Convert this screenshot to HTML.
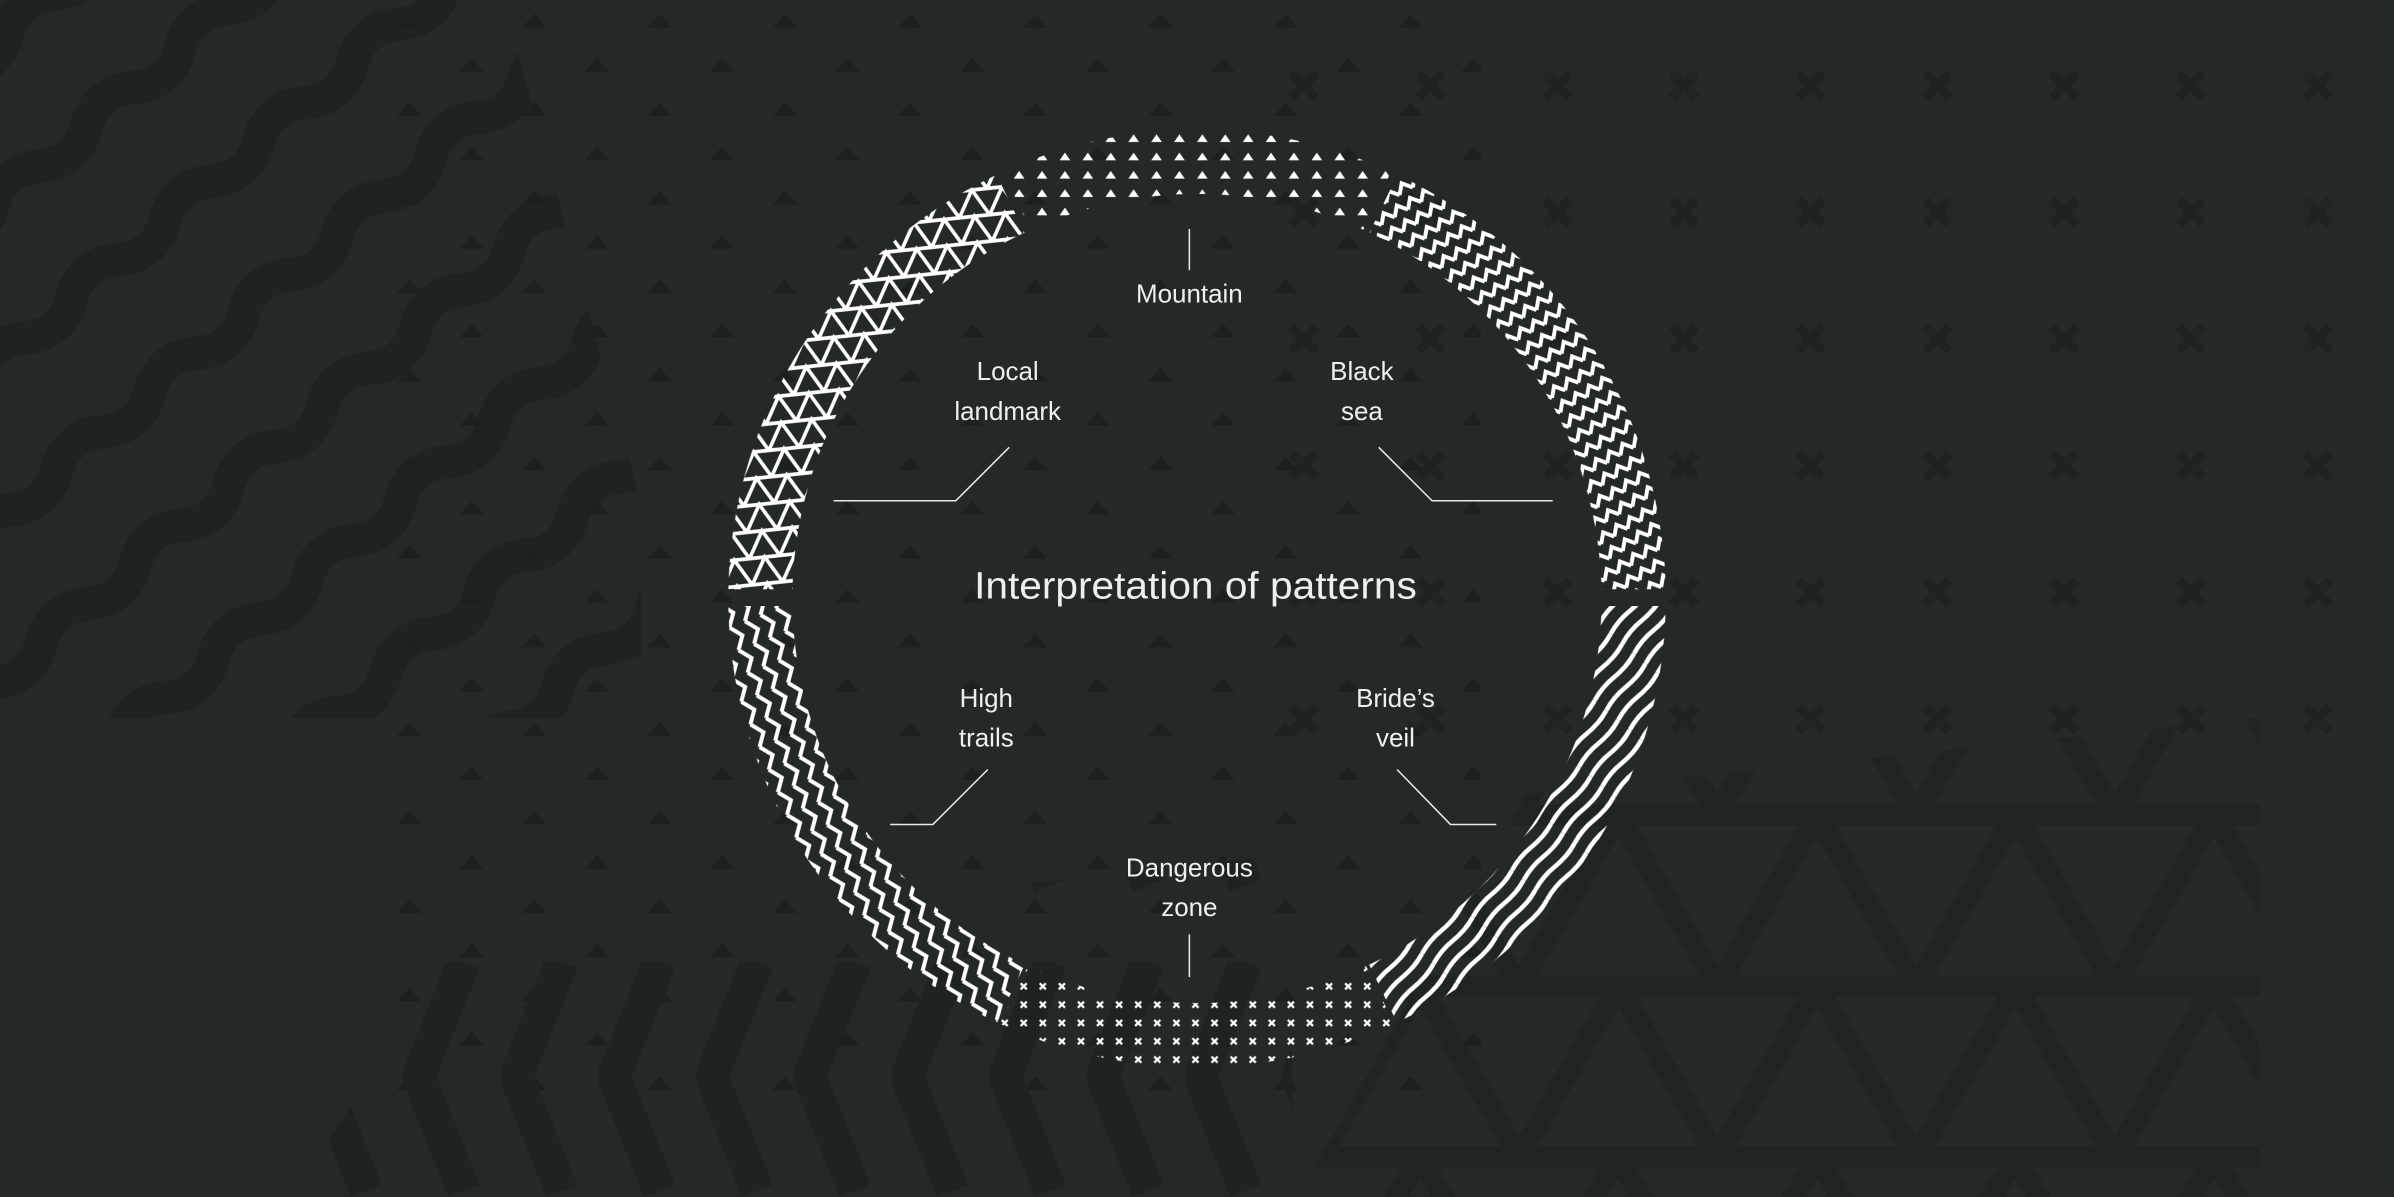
<!DOCTYPE html>
<html><head><meta charset="utf-8"><style>
html,body{margin:0;padding:0;background:#242927;}
svg{display:block;}
text{font-family:"Liberation Sans",sans-serif;fill:#eef0ee;}
</style></head><body>
<svg width="2394" height="1197" viewBox="0 0 1568 784" xmlns="http://www.w3.org/2000/svg">
<defs>
  <pattern id="bgWave" width="80" height="80" patternUnits="userSpaceOnUse" patternTransform="rotate(-40)">
    <path d="M-10 20 Q10 6 30 20 T70 20 T110 20" stroke="#1e2221" stroke-width="22" fill="none"/>
  </pattern>
  <pattern id="bgTri" width="82" height="58" patternUnits="userSpaceOnUse">
    <polygon points="14,18 22,9 30,18" fill="#1c201f"/>
    <polygon points="55,47 63,38 71,47" fill="#1c201f"/>
  </pattern>
  <pattern id="bgX" width="83" height="83" patternUnits="userSpaceOnUse" x="8" y="40">
    <path d="M8 8 L24 24 M24 8 L8 24" stroke="#1e2221" stroke-width="6"/>
  </pattern>
  <pattern id="bgLat" width="130" height="112" patternUnits="userSpaceOnUse" x="20" y="534">
    <path d="M0 0 H130 M0 112 H130 M0 0 L65 112 L130 0 M-65 112 L0 0 M65 -112 L130 0" stroke="#1f2322" stroke-width="14" fill="none"/>
  </pattern>
  <pattern id="bgChev" width="64" height="200" patternUnits="userSpaceOnUse" x="200" y="630">
    <path d="M40 0 L10 75 L40 150" stroke="#1e2221" stroke-width="22" fill="none"/>
  </pattern>

  <pattern id="pLat" width="20" height="17.3" patternUnits="userSpaceOnUse" patternTransform="rotate(-6)">
    <path d="M-2 0 H22 M-2 17.3 H22 M0 0 L10 17.3 L20 0 M-10 17.3 L0 0 M10 -17.3 L20 0 M20 17.3 L30 0 M0 17.3 L-10 0" stroke="#fff" stroke-width="2.4" fill="none"/>
  </pattern>
  <pattern id="pTriDot" width="15" height="12" patternUnits="userSpaceOnUse">
    <polygon points="4,9 7.5,4 11,9" fill="#fff"/>
  </pattern>
  <pattern id="pZigR" width="10" height="11" patternUnits="userSpaceOnUse" patternTransform="rotate(-30)">
    <path d="M0 8 L5 2 L10 8" stroke="#fff" stroke-width="2.6" fill="none"/>
  </pattern>
  <pattern id="pZigL" width="11" height="16" patternUnits="userSpaceOnUse" patternTransform="rotate(-22)">
    <path d="M3 0 L9 8 L3 16" stroke="#fff" stroke-width="2.6" fill="none"/>
  </pattern>
  <pattern id="pVeil" width="40" height="10" patternUnits="userSpaceOnUse" patternTransform="rotate(-50)">
    <path d="M0 5 Q10 3 20 5 T40 5" stroke="#fff" stroke-width="3" fill="none"/>
  </pattern>
  <pattern id="pX" width="12.5" height="12" patternUnits="userSpaceOnUse" x="2" y="4">
    <path d="M4 4 L8 8 M8 4 L4 8" stroke="#fff" stroke-width="1.5"/>
  </pattern>

  <mask id="ring">
    <rect width="1568" height="784" fill="#000"/>
    <circle cx="784" cy="392" r="307" fill="#fff"/>
    <circle cx="784" cy="392" r="265" fill="#000"/>
  </mask>
  <clipPath id="cTop"><polygon points="784,380 557,-98 1011,-98"/></clipPath>
  <clipPath id="cLU"><polygon points="784,386 550,-98 0,-98 0,386"/></clipPath>
  <clipPath id="cRU"><polygon points="784,386 1018,-98 1568,-98 1568,386"/></clipPath>
  <clipPath id="cLL"><polygon points="784,397 0,397 0,900 552,880"/></clipPath>
  <clipPath id="cBot"><polygon points="784,405 556,874 1012,874"/></clipPath>
  <clipPath id="cRL"><polygon points="784,397 1568,397 1568,900 1016,880"/></clipPath>
  <clipPath id="cLeft"><polygon points="0,0 330,0 420,330 420,470 0,470"/></clipPath>
  <clipPath id="cTopTri"><rect x="240" y="0" width="730" height="720"/></clipPath>
  <clipPath id="cRightX"><rect x="830" y="0" width="738" height="520"/></clipPath>
  <clipPath id="cLatt"><polygon points="850,784 1000,520 1480,470 1480,784"/></clipPath>
  <clipPath id="cChev"><polygon points="190,784 300,620 840,560 850,784"/></clipPath>
</defs>

<rect width="1568" height="784" fill="#242927"/>
<rect width="1568" height="784" fill="url(#bgWave)" clip-path="url(#cLeft)"/>
<rect width="1568" height="784" fill="url(#bgTri)" clip-path="url(#cTopTri)"/>
<rect width="1568" height="784" fill="url(#bgX)" clip-path="url(#cRightX)"/>
<rect width="1568" height="784" fill="url(#bgLat)" clip-path="url(#cLatt)"/>
<rect width="1568" height="784" fill="url(#bgChev)" clip-path="url(#cChev)"/>

<g mask="url(#ring)">
  <rect width="1568" height="784" fill="url(#pTriDot)" clip-path="url(#cTop)"/>
  <rect width="1568" height="784" fill="url(#pLat)" clip-path="url(#cLU)"/>
  <rect width="1568" height="784" fill="url(#pZigR)" clip-path="url(#cRU)"/>
  <rect width="1568" height="784" fill="url(#pZigL)" clip-path="url(#cLL)"/>
  <rect width="1568" height="784" fill="url(#pX)" clip-path="url(#cBot)"/>
  <rect width="1568" height="784" fill="url(#pVeil)" clip-path="url(#cRL)"/>
</g>

<g stroke="#e8eae8" stroke-width="1" fill="none">
  <path d="M779 150 V177"/>
  <path d="M546 328 H626 L661 293"/>
  <path d="M1017 328 H938 L903 293"/>
  <path d="M583 540 H611 L647 504"/>
  <path d="M980 540 H950 L915 504"/>
  <path d="M779 612 V640"/>
</g>

<g font-size="17" text-anchor="middle">
  <text x="779" y="198">Mountain</text>
  <text x="660" y="249">Local</text>
  <text x="660" y="275">landmark</text>
  <text x="892" y="249">Black</text>
  <text x="892" y="275">sea</text>
  <text x="646" y="463">High</text>
  <text x="646" y="489">trails</text>
  <text x="914" y="463">Bride’s</text>
  <text x="914" y="489">veil</text>
  <text x="779" y="574">Dangerous</text>
  <text x="779" y="600">zone</text>
  <text x="783" y="392" font-size="25" textLength="290" lengthAdjust="spacingAndGlyphs">Interpretation of patterns</text>
</g>
</svg>
</body></html>
